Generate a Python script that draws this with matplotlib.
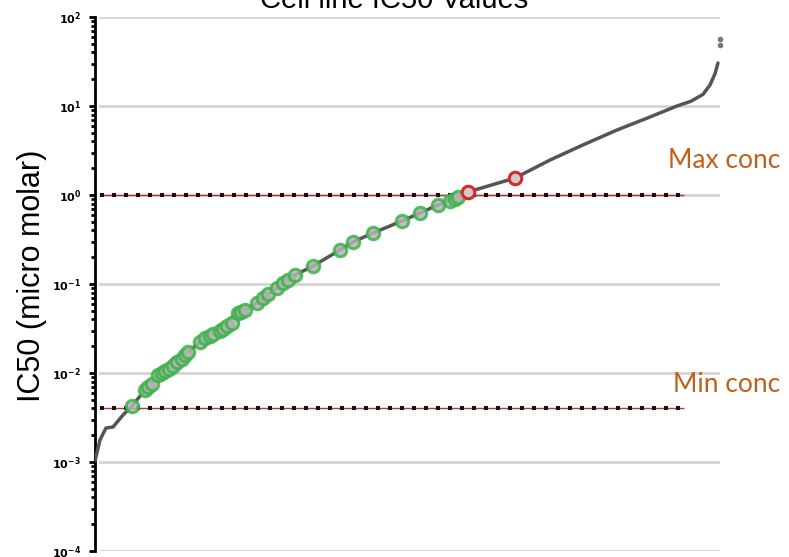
import numpy as np
import matplotlib.pyplot as plt
from matplotlib.ticker import LogLocator, LogFormatterMathtext, NullFormatter

# --------------------------------------------------
# Data
# --------------------------------------------------

# Cell lines ranked by IC50 (micro molar)
curve_rank = [0, 5, 11, 18, 28, 37, 50, 63, 78, 93, 105, 118, 132, 143, 150,
              162, 168, 182, 188, 200, 218, 245, 258, 278, 307, 325, 343, 357,
              363, 373, 420, 455, 488, 522, 555, 582, 596, 608, 615, 620, 623]
curve_ic50 = [0.00103, 0.00177, 0.00241, 0.00247, 0.00337, 0.00426, 0.00644,
              0.0095, 0.0144, 0.0172, 0.0223, 0.0274, 0.0365, 0.0472, 0.051,
              0.0612, 0.0697, 0.0902, 0.1026, 0.126, 0.159, 0.241, 0.296,
              0.374, 0.51, 0.628, 0.773, 0.90, 0.95, 1.08, 1.55, 2.47, 3.65,
              5.37, 7.52, 10.0, 11.3, 13.5, 17.2, 23.0, 30.4]

# Outliers above the curve
outlier_rank = [625, 625]
outlier_ic50 = [48.5, 56.6]

# Sensitive cell lines (green)
green_rank = [37, 50, 53, 57, 63, 67, 70, 74, 78, 82, 87, 90, 93, 105, 110,
              115, 118, 125, 128, 132, 137, 143, 146, 150, 162, 168, 173, 182,
              188, 193, 200, 218, 245, 258, 278, 307, 325, 343, 355, 360, 363]
green_ic50 = [0.00426, 0.00644, 0.0070, 0.00752, 0.0095, 0.0100, 0.0105,
              0.0112, 0.0120, 0.0132, 0.0144, 0.0158, 0.0172, 0.0223, 0.0245,
              0.0262, 0.0274, 0.0300, 0.0312, 0.0338, 0.0365, 0.0472, 0.0490,
              0.051, 0.0612, 0.0697, 0.0780, 0.0902, 0.1026, 0.112, 0.126,
              0.159, 0.241, 0.296, 0.374, 0.51, 0.628, 0.773, 0.86, 0.90, 0.95]

# Resistant cell lines (red)
red_rank = [373, 420]
red_ic50 = [1.08, 1.55]

MAX_CONC = 1.0
MIN_CONC = 0.004

# --------------------------------------------------
# Figure
# --------------------------------------------------

plt.rcParams['lines.scale_dashes'] = False

fig = plt.figure(figsize=(7.89, 5.57), dpi=100)
ax = fig.add_axes([0.1204, 0.0108, 0.7921, 0.9587])

ax.set_yscale('log')
ax.set_ylim(1e-4, 1e2)
ax.set_xlim(0, 625)

# horizontal grid at each decade
for dec in [1e-4, 1e-3, 1e-2, 1e-1, 1e0, 1e1, 1e2]:
    ax.axhline(dec, xmin=0.008, xmax=1.0, color='#d4d4d4', lw=2, zorder=1)

# concentration limits
for conc in [MAX_CONC, MIN_CONC]:
    ax.hlines(conc, 5, 589, color='#b03a3a', lw=1.0, zorder=2)
    ax.hlines(conc, 5, 589, color='#1a1010', lw=2.9,
              linestyles=[(0, (2.9, 5.74))], zorder=2)

# sorted IC50 curve
ax.plot(curve_rank, curve_ic50, color='#555555', lw=2.5, zorder=3,
        solid_capstyle='round')
ax.plot(outlier_rank, outlier_ic50, 'o', color='#777777', ms=3,
        zorder=3, clip_on=False)

# highlighted cell lines
ax.plot(green_rank, green_ic50, 'o', ms=9, mew=2.2,
        mfc='#b4b4b4', mec='#3cb34a', alpha=0.85, zorder=4)
ax.plot(red_rank, red_ic50, 'o', ms=9, mew=2.2,
        mfc='#cccccc', mec='#d42a2a', zorder=5)

# --------------------------------------------------
# Axes styling
# --------------------------------------------------

for side in ['top', 'right', 'bottom']:
    ax.spines[side].set_visible(False)
ax.spines['left'].set_linewidth(2)

ax.set_xticks([])
ax.yaxis.set_major_locator(LogLocator(base=10, numticks=10))
ax.yaxis.set_minor_locator(LogLocator(base=10, subs=np.arange(2, 10), numticks=10))
ax.yaxis.set_major_formatter(LogFormatterMathtext())
ax.yaxis.set_minor_formatter(NullFormatter())
ax.tick_params(axis='y', which='major', length=4, width=2, direction='out',
               labelsize=8, pad=6)
ax.tick_params(axis='y', which='minor', length=3, width=2, direction='out')
for lbl in ax.get_yticklabels():
    lbl.set_fontweight('bold')

fig.text(0.04, 0.505, 'IC50 (micro molar)', rotation=90, fontsize=22,
         family='Liberation Sans', ha='center', va='center')
fig.text(0.50, 0.986, 'Cell line IC50 Values', fontsize=21,
         family='Liberation Sans', ha='center', va='baseline')

fig.text(0.847, 0.712, 'Max conc', fontsize=19, family='Lato',
         color='#c0601a', ha='left', va='center')
fig.text(0.853, 0.309, 'Min conc', fontsize=19, family='Lato',
         color='#c0601a', ha='left', va='center')

plt.savefig('out.png', dpi=100)
plt.close()
